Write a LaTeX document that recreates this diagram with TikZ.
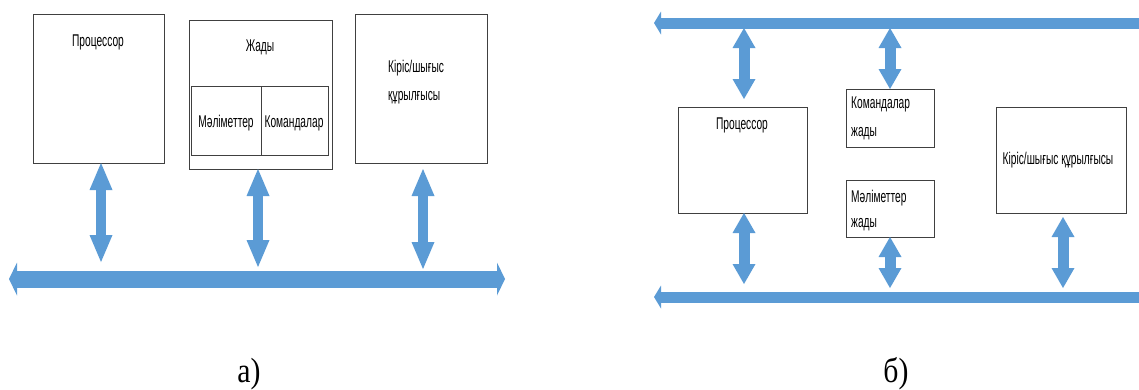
\documentclass[tikz,border=0pt]{standalone}
\usepackage{fontspec}
\setmainfont{Liberation Serif}
\newfontfamily\nar{Liberation Sans}[FakeStretch=0.6]
\newfontfamily\capfont{Liberation Serif}[FakeStretch=0.85]
\usetikzlibrary{arrows.meta}
\definecolor{busblue}{HTML}{5B9BD5}
\definecolor{boxline}{HTML}{404040}
\tikzset{
  box/.style={draw=boxline,line width=0.9pt,fill=white,inner sep=0pt,outer sep=0pt,anchor=north west},
  txt/.style={font={\nar\fontsize{17}{20}\selectfont},inner sep=0pt,anchor=base},
  ltxt/.style={txt,anchor=base west},
  vA/.style={draw=busblue,line width=10pt,
    {Triangle[width=23pt,length=27pt,line width=0pt]}-{Triangle[width=23pt,length=27pt,line width=0pt]}},
  vB/.style={draw=busblue,line width=11pt,
    {Triangle[width=23pt,length=20pt,line width=0pt]}-{Triangle[width=23pt,length=20pt,line width=0pt]}},
  busA/.style={draw=busblue,line width=17pt,
    {Triangle[width=33pt,length=8pt,line width=0pt]}-{Triangle[width=33pt,length=8pt,line width=0pt]}},
  busB/.style={draw=busblue,line width=11pt,
    {Triangle[width=23pt,length=7pt,line width=0pt]}-{Triangle[width=23pt,length=7pt,line width=0pt]}},
  captxt/.style={font={\capfont\fontsize{35}{40}\selectfont},inner sep=0pt,anchor=base}
}
\begin{document}
\begin{tikzpicture}[x=1pt,y=-1pt]
\useasboundingbox (0,0) rectangle (1139,389);
\begin{scope}
\clip (0,0) rectangle (1139,389);
% ---------- panel a ----------
\coordinate (aL) at (9,279);
\coordinate (aR) at (505,279);
\draw[busA] (aL) -- (aR);
% ---------- panel b ----------
\coordinate (bTL) at (654,23);
\coordinate (bTR) at (1146,23);
\coordinate (bBL) at (654,297);
\coordinate (bBR) at (1146,297);
\draw[busB] (bTL) -- (bTR);
\draw[busB] (bBL) -- (bBR);
\end{scope}

% panel a boxes
\node[box,minimum width=131pt,minimum height=149pt] (pA) at (33,14) {};
\node[box,minimum width=143pt,minimum height=149pt] (mA) at (189,20) {};
\node[box,minimum width=70pt,minimum height=69pt] (dA) at (191,86) {};
\node[box,minimum width=67pt,minimum height=69pt] (cA) at (261,86) {};
\node[box,minimum width=132pt,minimum height=149pt] (iA) at (355,14) {};

\node[txt] (pAt) at (98,46) {Процессор};
\node[txt] (mAt) at (260,51) {Жады};
\node[txt] (dAt) at (226,127) {Мәліметтер};
\node[txt] (cAt) at (294,127) {Командалар};
\node[ltxt] (iAt1) at (388,72) {Кіріс/шығыс};
\node[ltxt] (iAt2) at (388,100) {құрылғысы};

\coordinate (aP) at (101,262);
\coordinate (aM) at (258,267);
\coordinate (aI) at (423,269);
\draw[vA] (aP |- pA.south) -- (aP);
\draw[vA] (aM |- mA.south) -- (aM);
\draw[vA,shorten <=6pt] (aI |- iA.south) -- (aI);

% panel b boxes
\node[box,minimum width=129pt,minimum height=106pt] (pB) at (678,107) {};
\node[box,minimum width=88pt,minimum height=58pt] (cB) at (846,89) {};
\node[box,minimum width=88pt,minimum height=57pt] (dB) at (846,180) {};
\node[box,minimum width=130pt,minimum height=106pt] (iB) at (996,107) {};

\node[txt] (pBt) at (742,129) {Процессор};
\node[ltxt] (cBt1) at (851,108) {Командалар};
\node[ltxt] (cBt2) at (851,136) {жады};
\node[ltxt] (dBt1) at (851,202) {Мәліметтер};
\node[ltxt] (dBt2) at (851,227) {жады};
\node[txt] (iBt) at (1058,164) {Кіріс/шығыс құрылғысы};

\coordinate (bP1) at (744,28);
\coordinate (bP2) at (744,284);
\coordinate (bC) at (890,28);
\coordinate (bD) at (890,288);
\coordinate (bI) at (1063,288);
\draw[vB,shorten >=8pt] (bP1) -- (bP1 |- pB.north);
\draw[vB] (bP2 |- pB.south) -- (bP2);
\draw[vB] (bC) -- (bC |- cB.north);
\draw[vB] (bD |- dB.south) -- (bD);
\draw[vB,shorten <=4pt] (bI |- iB.south) -- (bI);

% captions
\node[captxt] (la) at (249,382) {а)};
\node[captxt] (lb) at (896,382) {б)};
\end{tikzpicture}
\end{document}
